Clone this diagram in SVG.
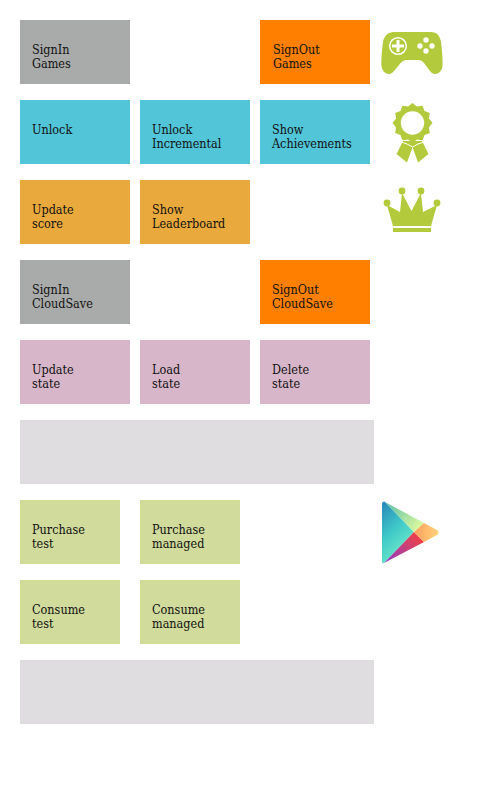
<svg xmlns="http://www.w3.org/2000/svg" width="480" height="800" viewBox="0 0 480 800">
<style>
text{font-family:"DejaVu Serif Condensed","DejaVu Serif","Liberation Serif",serif;font-stretch:condensed;font-size:12.5px;fill:#111}
.g{fill:#a9abaa}.o{fill:#ff7f00}.b{fill:#52c5d8}.a{fill:#e9a93c}.p{fill:#d8b6c9}.e{fill:#dfdddf}.l{fill:#d0db9c}.i{fill:#b2ca3c}
</style>
<defs>
<linearGradient id="pl1" x1="0" y1="0" x2="0.5" y2="1"><stop offset="0" stop-color="#2a86b8"/><stop offset="0.5" stop-color="#3fc8c8"/><stop offset="1" stop-color="#72eec8"/></linearGradient>
<linearGradient id="pl2" x1="0" y1="0" x2="1" y2="0.6"><stop offset="0" stop-color="#58bca8"/><stop offset="1" stop-color="#d8f8a0"/></linearGradient>
<linearGradient id="pl3" x1="0" y1="1" x2="1" y2="0.3"><stop offset="0" stop-color="#8a3ec8"/><stop offset="1" stop-color="#f04048"/></linearGradient>
<linearGradient id="pl4" x1="0" y1="0" x2="1" y2="0"><stop offset="0" stop-color="#ffa060"/><stop offset="1" stop-color="#ffd47a"/></linearGradient>
</defs>
<g id="connectors"/>
<g id="n1"><rect class="g" x="20" y="20" width="110" height="64"/><text x="32" y="54">SignIn</text><text x="32" y="68">Games</text></g>
<g id="n2"><rect class="o" x="260" y="20" width="110" height="64"/><text x="273" y="54">SignOut</text><text x="273" y="68">Games</text></g>
<g id="n3"><rect class="b" x="20" y="100" width="110" height="64"/><text x="32" y="134">Unlock</text></g>
<g id="n4"><rect class="b" x="140" y="100" width="110" height="64"/><text x="152" y="134">Unlock</text><text x="152" y="148">Incremental</text></g>
<g id="n5"><rect class="b" x="260" y="100" width="110" height="64"/><text x="272" y="134">Show</text><text x="272" y="148">Achievements</text></g>
<g id="n6"><rect class="a" x="20" y="180" width="110" height="64"/><text x="32" y="214">Update</text><text x="32" y="228">score</text></g>
<g id="n7"><rect class="a" x="140" y="180" width="110" height="64"/><text x="152" y="214">Show</text><text x="152" y="228">Leaderboard</text></g>
<g id="n8"><rect class="g" x="20" y="260" width="110" height="64"/><text x="32" y="294">SignIn</text><text x="32" y="308">CloudSave</text></g>
<g id="n9"><rect class="o" x="260" y="260" width="110" height="64"/><text x="272" y="294">SignOut</text><text x="272" y="308">CloudSave</text></g>
<g id="n10"><rect class="p" x="20" y="340" width="110" height="64"/><text x="32" y="374">Update</text><text x="32" y="388">state</text></g>
<g id="n11"><rect class="p" x="140" y="340" width="110" height="64"/><text x="152" y="374">Load</text><text x="152" y="388">state</text></g>
<g id="n12"><rect class="p" x="260" y="340" width="110" height="64"/><text x="272" y="374">Delete</text><text x="272" y="388">state</text></g>
<g id="n13"><rect class="e" x="20" y="420" width="354" height="64"/></g>
<g id="n14"><rect class="l" x="20" y="500" width="100" height="64"/><text x="32" y="534">Purchase</text><text x="32" y="548">test</text></g>
<g id="n15"><rect class="l" x="140" y="500" width="100" height="64"/><text x="152" y="534">Purchase</text><text x="152" y="548">managed</text></g>
<g id="n16"><rect class="l" x="20" y="580" width="100" height="64"/><text x="32" y="614">Consume</text><text x="32" y="628">test</text></g>
<g id="n17"><rect class="l" x="140" y="580" width="100" height="64"/><text x="152" y="614">Consume</text><text x="152" y="628">managed</text></g>
<g id="n18"><rect class="e" x="20" y="660" width="354" height="64"/></g>
<g id="icon-gamepad">
<path class="i" d="M394 32H431C437 32 440 36 441 42C442 50 443 60 442.500 66C442 72 436 76 432 73C428 70 424 60 419 60H406C401 60 396 70 392 73C388 76 382 72 381.500 66C381 60 382 50 383 42C384 36 388 32 394 32Z"/>
<circle cx="398" cy="46" r="8.300" fill="none" stroke="#fff" stroke-width="1.500"/>
<path d="M398 40V52M392 46H404" stroke="#fff" stroke-width="3"/>
<g fill="#fff"><circle cx="426" cy="40" r="2.700"/><circle cx="420" cy="46" r="2.700"/><circle cx="432" cy="46" r="2.700"/><circle cx="426" cy="51" r="2.700"/></g>
</g>
<g id="icon-medal">
<path class="i" d="M403 141L396.500 154L407 162.500L412.500 147L418 162.500L428.500 154L422 141Z"/>
<path class="i" d="M432.500 123L428.900 127.400L429.800 133L424.500 135L422.500 140.300L416.900 139.400L412.500 143L408.100 139.400L402.500 140.300L400.500 135L395.200 133L396.100 127.400L392.500 123L396.100 118.600L395.200 113L400.500 111L402.500 105.700L408.100 106.600L412.500 103L416.900 106.600L422.500 105.700L424.500 111L429.800 113L428.900 118.600Z"/>
<circle cx="412.500" cy="123" r="11.700" fill="#fff"/>
<path d="M401 142L407 144L412.500 147L418 144L424 142" fill="none" stroke="#fff" stroke-width="1"/>
</g>
<g id="icon-crown">
<path class="i" d="M387 205L400 212L402 193L411.500 211L421 193L423 212L437 205L431 226H393Z"/>
<circle class="i" cx="387" cy="203" r="3.400"/><circle class="i" cx="402" cy="191" r="3.400"/><circle class="i" cx="421" cy="191" r="3.400"/><circle class="i" cx="437" cy="203" r="3.400"/>
<rect class="i" x="393" y="228" width="38" height="4"/>
</g>
<g id="icon-play">
<path fill="url(#pl1)" d="M382 504C382 502 384 501 385 502L414 532L384 563C383 564 382 563 382 561Z"/>
<path fill="url(#pl2)" d="M385 502L424 523L414 532Z"/>
<path fill="url(#pl3)" d="M384 563L414 532L424 542Z"/>
<path fill="url(#pl4)" d="M424 523L437 530C439 531 439 534 437 535L424 542L414 532Z"/>
</g>
</svg>
